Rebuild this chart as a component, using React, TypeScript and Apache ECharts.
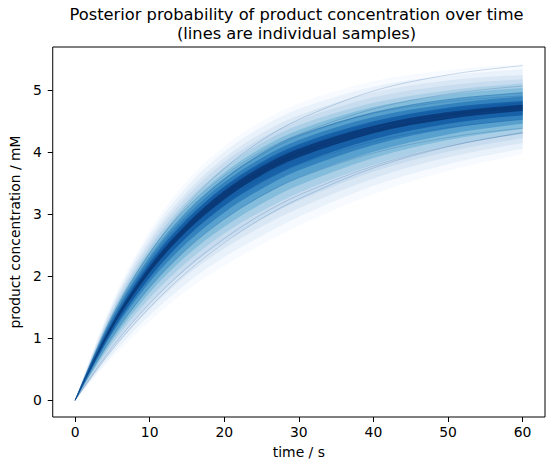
import React, { useEffect, useRef } from "react";
import * as echarts from "echarts";

// time points (s)
const TIME_S = [0, 5, 10, 15, 20, 25, 30, 40, 50, 60];
const X_TICKS = [0, 10, 20, 30, 40, 50, 60];
const Y_TICKS = [0, 1, 2, 3, 4, 5];

// posterior percentile bands (upper = p-th percentile, lower = (100-p)-th percentile), mM
const P99_HI = [0, 1.6, 2.74, 3.54, 4.1, 4.5, 4.79, 5.15, 5.33, 5.42];
const P99_LO = [0, 0.68, 1.27, 1.77, 2.17, 2.51, 2.82, 3.33, 3.7, 3.97];
const P96_HI = [0, 1.55, 2.67, 3.45, 4.01, 4.41, 4.7, 5.06, 5.24, 5.34];
const P96_LO = [0, 0.74, 1.37, 1.89, 2.31, 2.65, 2.96, 3.46, 3.81, 4.06];
const P92_HI = [0, 1.51, 2.59, 3.36, 3.91, 4.31, 4.6, 4.97, 5.16, 5.25];
const P92_LO = [0, 0.81, 1.47, 2.02, 2.45, 2.8, 3.1, 3.58, 3.92, 4.15];
const P88_HI = [0, 1.47, 2.53, 3.29, 3.84, 4.23, 4.52, 4.89, 5.08, 5.18];
const P88_LO = [0, 0.86, 1.56, 2.12, 2.56, 2.92, 3.22, 3.69, 4.01, 4.23];
const P83_HI = [0, 1.43, 2.46, 3.21, 3.75, 4.15, 4.44, 4.8, 5.0, 5.11];
const P83_LO = [0, 0.92, 1.65, 2.23, 2.69, 3.05, 3.35, 3.8, 4.11, 4.31];
const P78_HI = [0, 1.39, 2.4, 3.13, 3.67, 4.07, 4.36, 4.73, 4.93, 5.04];
const P78_LO = [0, 0.97, 1.74, 2.34, 2.8, 3.17, 3.47, 3.91, 4.2, 4.38];
const P72_HI = [0, 1.35, 2.34, 3.06, 3.59, 3.99, 4.28, 4.65, 4.86, 4.97];
const P72_LO = [0, 1.02, 1.82, 2.44, 2.92, 3.29, 3.59, 4.01, 4.29, 4.46];
const P66_HI = [0, 1.31, 2.28, 2.99, 3.52, 3.91, 4.2, 4.57, 4.78, 4.9];
const P66_LO = [0, 1.08, 1.91, 2.54, 3.03, 3.41, 3.71, 4.12, 4.38, 4.53];
const P60_HI = [0, 1.27, 2.22, 2.92, 3.45, 3.84, 4.13, 4.5, 4.72, 4.83];
const P60_LO = [0, 1.13, 1.98, 2.64, 3.14, 3.52, 3.81, 4.21, 4.46, 4.6];
const P54_HI = [0, 1.24, 2.16, 2.85, 3.38, 3.77, 4.06, 4.43, 4.65, 4.77];
const P54_LO = [0, 1.17, 2.06, 2.73, 3.24, 3.63, 3.92, 4.31, 4.54, 4.67];

// individual posterior samples, mM
const SAMPLE_01 = [0, 1.35, 2.37, 3.15, 3.74, 4.19, 4.53, 4.99, 5.25, 5.4];
const SAMPLE_02 = [0, 1.3, 2.28, 3.01, 3.56, 3.98, 4.29, 4.7, 4.94, 5.07];
const SAMPLE_03 = [0, 1.32, 2.3, 3.03, 3.56, 3.96, 4.26, 4.64, 4.85, 4.96];
const SAMPLE_04 = [0, 1.37, 2.37, 3.1, 3.62, 4.01, 4.28, 4.63, 4.82, 4.91];
const SAMPLE_05 = [0, 1.25, 2.18, 2.88, 3.4, 3.79, 4.08, 4.46, 4.68, 4.8];
const SAMPLE_06 = [0, 1.17, 2.06, 2.74, 3.26, 3.65, 3.94, 4.34, 4.57, 4.7];
const SAMPLE_07 = [0, 1.25, 2.17, 2.86, 3.37, 3.74, 4.02, 4.38, 4.58, 4.69];
const SAMPLE_08 = [0, 1.14, 2.03, 2.71, 3.23, 3.64, 3.95, 4.38, 4.63, 4.78];
const SAMPLE_09 = [0, 1.29, 2.23, 2.92, 3.42, 3.79, 4.06, 4.4, 4.57, 4.67];
const SAMPLE_10 = [0, 1.12, 1.99, 2.66, 3.19, 3.6, 3.92, 4.37, 4.64, 4.8];
const SAMPLE_11 = [0, 1.22, 2.14, 2.83, 3.35, 3.74, 4.03, 4.42, 4.64, 4.76];
const SAMPLE_12 = [0, 0.82, 1.5, 2.07, 2.54, 2.93, 3.25, 3.75, 4.09, 4.32];
const SAMPLE_13 = [0, 0.86, 1.56, 2.14, 2.61, 3.0, 3.31, 3.78, 4.1, 4.31];
const SAMPLE_14 = [0, 1.02, 1.82, 2.44, 2.92, 3.3, 3.59, 3.99, 4.24, 4.39];
const SAMPLE_15 = [0, 1.13, 1.99, 2.64, 3.14, 3.51, 3.8, 4.18, 4.4, 4.53];

const BANDS = [
  [P99_LO, P99_HI],
  [P96_LO, P96_HI],
  [P92_LO, P92_HI],
  [P88_LO, P88_HI],
  [P83_LO, P83_HI],
  [P78_LO, P78_HI],
  [P72_LO, P72_HI],
  [P66_LO, P66_HI],
  [P60_LO, P60_HI],
  [P54_LO, P54_HI],
];
const SAMPLES = [
  SAMPLE_01, SAMPLE_02, SAMPLE_03, SAMPLE_04, SAMPLE_05,
  SAMPLE_06, SAMPLE_07, SAMPLE_08, SAMPLE_09, SAMPLE_10,
  SAMPLE_11, SAMPLE_12, SAMPLE_13, SAMPLE_14, SAMPLE_15,
];

// styles (Blues colormap, outer -> inner)
const BAND_COLORS = [
  "rgb(245,250,255)",
  "rgb(229,239,249)",
  "rgb(213,229,244)",
  "rgb(195,218,238)",
  "rgb(163,204,227)",
  "rgb(122,182,216)",
  "rgb(78,154,203)",
  "rgb(43,123,186)",
  "rgb(16,89,162)",
  "rgb(8,48,107)",
];
const SAMPLE_COLOR = "#084a92";
const FONT = "DejaVu Sans";

type Pt = number[];

// cubic Hermite segments through pixel points (rendering only)
function segments(pts: Pt[]): number[][] {
  const n = pts.length;
  const s: number[] = new Array(n).fill(0);
  for (let j = 1; j < n - 1; j++) {
    s[j] = (pts[j + 1][1] - pts[j - 1][1]) / (pts[j + 1][0] - pts[j - 1][0]);
  }
  if (n >= 3) {
    const c0 = (pts[1][1] - pts[0][1]) / (pts[1][0] - pts[0][0]);
    s[0] = 1.5 * c0 - 0.5 * s[1];
    const cn = (pts[n - 1][1] - pts[n - 2][1]) / (pts[n - 1][0] - pts[n - 2][0]);
    s[n - 1] = 1.5 * cn - 0.5 * s[n - 2];
  }
  const out: number[][] = [];
  for (let j = 0; j < n - 1; j++) {
    const h = pts[j + 1][0] - pts[j][0];
    out.push([
      pts[j][0] + h / 3, pts[j][1] + (s[j] * h) / 3,
      pts[j + 1][0] - h / 3, pts[j + 1][1] - (s[j + 1] * h) / 3,
      pts[j][0], pts[j][1], pts[j + 1][0], pts[j + 1][1],
    ]);
  }
  return out;
}
const f = (v: number) => v.toFixed(2);
function forwardPath(pts: Pt[]): string {
  return segments(pts)
    .map((g) => `C${f(g[0])} ${f(g[1])} ${f(g[2])} ${f(g[3])} ${f(g[6])} ${f(g[7])}`)
    .join(" ");
}
function reversePath(pts: Pt[]): string {
  return segments(pts)
    .reverse()
    .map((g) => `C${f(g[2])} ${f(g[3])} ${f(g[0])} ${f(g[1])} ${f(g[4])} ${f(g[5])}`)
    .join(" ");
}

export default function App() {
  const ref = useRef<HTMLDivElement>(null);
  useEffect(() => {
    if (!ref.current) return;
    const chart = echarts.init(ref.current, undefined, { renderer: "svg" });
    const series: any[] = [];
    BANDS.forEach((band, i) => {
      const [lo, hi] = band;
      series.push({
        type: "custom",
        coordinateSystem: "cartesian2d",
        silent: true,
        clip: true,
        z: 2,
        encode: { x: 0, y: [1, 2] },
        data: TIME_S.map((t, j) => [t, lo[j], hi[j]]),
        renderItem: (params: any, api: any) => {
          if (params.dataIndexInside !== 0) return null;
          const n = params.dataInsideLength;
          const hp: Pt[] = [];
          const lp: Pt[] = [];
          for (let j = 0; j < n; j++) {
            const x = api.value(0, j);
            hp.push(api.coord([x, api.value(2, j)]));
            lp.push(api.coord([x, api.value(1, j)]));
          }
          const d =
            `M${f(hp[0][0])} ${f(hp[0][1])} ` +
            forwardPath(hp) +
            ` L${f(lp[n - 1][0])} ${f(lp[n - 1][1])} ` +
            reversePath(lp) +
            " Z";
          return {
            type: "path",
            shape: { pathData: d },
            style: { fill: BAND_COLORS[i], opacity: 0.8, stroke: "none" },
          };
        },
      });
    });
    SAMPLES.forEach((s) => {
      series.push({
        type: "custom",
        coordinateSystem: "cartesian2d",
        silent: true,
        clip: true,
        z: 3,
        encode: { x: 0, y: 1 },
        data: TIME_S.map((t, j) => [t, s[j]]),
        renderItem: (params: any, api: any) => {
          if (params.dataIndexInside !== 0) return null;
          const n = params.dataInsideLength;
          const p: Pt[] = [];
          for (let j = 0; j < n; j++) p.push(api.coord([api.value(0, j), api.value(1, j)]));
          const d = `M${f(p[0][0])} ${f(p[0][1])} ` + forwardPath(p);
          return {
            type: "path",
            shape: { pathData: d },
            style: { fill: "none", stroke: SAMPLE_COLOR, lineWidth: 1, opacity: 0.2 },
          };
        },
      });
    });

    chart.setOption({
      animation: false,
      title: {
        text: "Posterior probability of product concentration over time\n(lines are individual samples)",
        left: 296.5,
        top: 4.9,
        padding: 0,
        textAlign: "center",
        textStyle: {
          fontFamily: FONT,
          fontSize: 16.3,
          fontWeight: "normal",
          color: "#000",
          lineHeight: 19.1,
        },
      },
      grid: {
        left: 48,
        right: 9,
        top: 47,
        bottom: 53,
        show: true,
        borderColor: "#000",
        borderWidth: 1,
        backgroundColor: "transparent",
      },
      xAxis: {
        type: "value",
        min: -3,
        max: 63,
        name: "time / s",
        nameLocation: "middle",
        nameGap: 28,
        nameTextStyle: { fontFamily: FONT, fontSize: 13.9, color: "#000" },
        axisLine: { show: false, onZero: false },
        axisTick: {
          show: true,
          customValues: X_TICKS,
          length: 5,
          lineStyle: { color: "#000", width: 1 },
        },
        axisLabel: {
          customValues: X_TICKS,
          fontFamily: FONT,
          fontSize: 13.9,
          color: "#000",
          margin: 8,
        },
        splitLine: { show: false },
      },
      yAxis: {
        type: "value",
        min: -0.27,
        max: 5.7,
        name: "product concentration / mM",
        nameLocation: "middle",
        nameGap: 24,
        nameTextStyle: { fontFamily: FONT, fontSize: 13.9, color: "#000" },
        axisLine: { show: false, onZero: false },
        axisTick: {
          show: true,
          customValues: Y_TICKS,
          length: 5,
          lineStyle: { color: "#000", width: 1 },
        },
        axisLabel: {
          customValues: Y_TICKS,
          fontFamily: FONT,
          fontSize: 13.9,
          color: "#000",
          margin: 11,
        },
        splitLine: { show: false },
      },
      series,
    });
    return () => chart.dispose();
  }, []);
  return (
    <div
      ref={ref}
      style={{ position: "fixed", left: 0, top: 0, width: 554, height: 470, background: "#fff" }}
    />
  );
}
